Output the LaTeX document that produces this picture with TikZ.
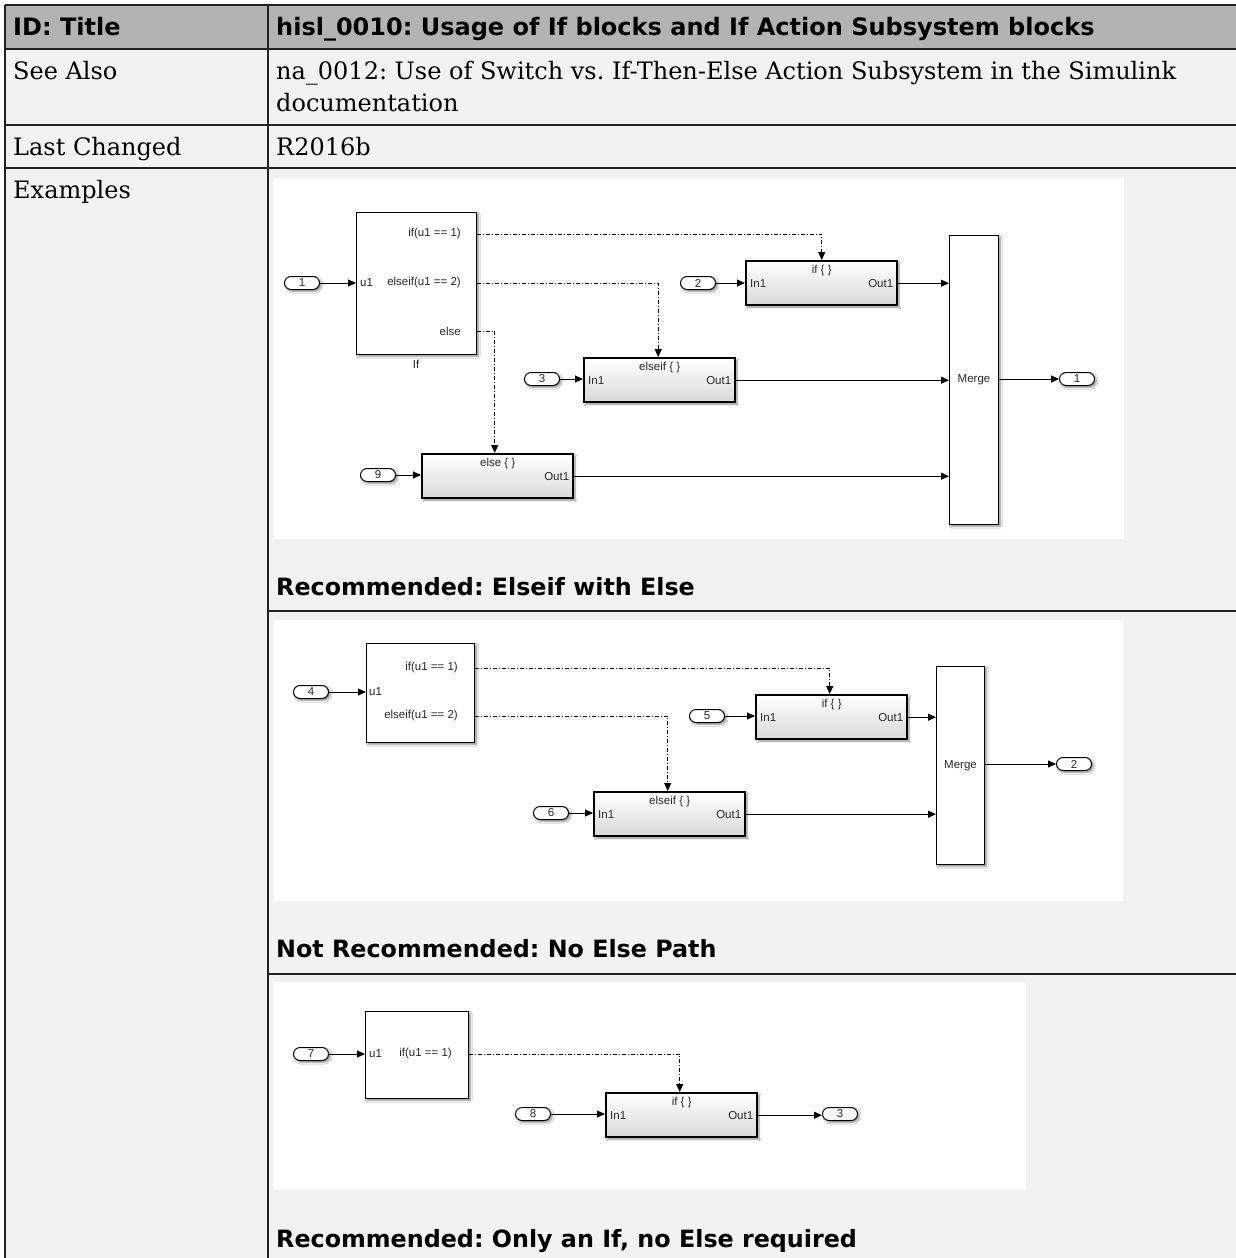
\documentclass[tikz,border=0pt]{standalone}
\usepackage{fontspec}
\setmainfont{DejaVu Serif}
\newfontfamily\hdfont{DejaVu Sans}
\newfontfamily\slfont{Liberation Sans}
\usetikzlibrary{arrows.meta,shadows.blur,calc}
\definecolor{hdrgray}{HTML}{B3B3B3}
\definecolor{cellgray}{HTML}{F2F2F2}
\definecolor{sltext}{HTML}{2A2A2A}
\definecolor{gridcol}{HTML}{222222}
\frenchspacing
\tikzset{
  gridline/.style={draw=gridcol, line width=1.6pt},
  hdtext/.style={font=\hdfont\bfseries\fontsize{24}{29}\selectfont, anchor=base west, inner sep=0pt},
  captext/.style={font=\hdfont\bfseries\fontsize{23.8}{29}\selectfont, anchor=base west, inner sep=0pt},
  bodytext/.style={font=\fontsize{24}{31}\selectfont, anchor=base west, inner sep=0pt},
  slshadow/.style={blur shadow={shadow xshift=1.8pt, shadow yshift=-1.8pt, shadow blur radius=1.8pt, shadow blur steps=6, shadow opacity=45}},
  sysblk/.style={draw=black, line width=1pt, fill=white, slshadow, anchor=north west, inner sep=0pt},
  actblk/.style={draw=black, line width=2.4pt, top color=white, bottom color=black!15, slshadow, anchor=north west, inner sep=0pt, minimum width=151pt, minimum height=44pt},
  pill/.style={draw=black, line width=1pt, fill=white, rounded corners=6.5pt, slshadow, minimum width=35pt, minimum height=13pt, inner sep=0pt, font=\slfont\fontsize{11.5}{13}\selectfont, text=sltext},
  sl/.style={font=\slfont\fontsize{11.5}{13}\selectfont, text=sltext, inner sep=0pt},
  sig/.style={draw=black, line width=1pt, -{Triangle[length=8pt,width=7pt]}},
  ctrl/.style={sig, dash pattern=on 4pt off 2pt on 1pt off 2pt},
}
\begin{document}
\begin{tikzpicture}[x=1pt,y=-1pt]
\useasboundingbox (0,0) rectangle (1236,1258);
\clip (0,0) rectangle (1236,1258);
% table backgrounds
\fill[white] (0,0) rectangle (1236,1258);
\fill[hdrgray] (5,5) rectangle (1240,49);
\fill[cellgray] (5,49) rectangle (1240,1262);
% image panels
\fill[white] (274,178) rectangle (1124,539);
\fill[white] (274,620) rectangle (1123,901);
\fill[white] (274,982) rectangle (1026,1190);
% grid lines
\draw[gridline] (5,5) -- (1240,5);
\draw[gridline] (5,49) -- (1240,49);
\draw[gridline] (5,125) -- (1240,125);
\draw[gridline] (5,168) -- (1240,168);
\draw[gridline] (268,611) -- (1240,611);
\draw[gridline] (268,974) -- (1240,974);
\draw[gridline] (5,5) -- (5,1262);
\draw[gridline] (268,5) -- (268,1262);
% texts
\node[hdtext] (h1) at (13,35) {ID: Title};
\node[hdtext] (h2) at (276,35) {hisl\_0010: Usage of If blocks and If Action Subsystem blocks};
\node[bodytext] (t1) at (13,79) {See Also};
\node[bodytext] (t2) at (276,79) {na\_0012: Use of Switch vs. If-Then-Else Action Subsystem in the Simulink};
\node[bodytext] (t3) at (276,111) {documentation};
\node[bodytext] (t4) at (13,155) {Last Changed};
\node[bodytext] (t5) at (276,155) {R2016b};
\node[bodytext] (t6) at (13,198) {Examples};
\node[captext] (c1) at (276,595) {Recommended: Elseif with Else};
\node[captext] (c2) at (276,957) {Not Recommended: No Else Path};
\node[captext] (c3) at (276,1247) {Recommended: Only an If, no Else required};

% ================= Diagram 1 =================
\node[sysblk, minimum width=120pt, minimum height=142pt] (If1) at (356,212) {};
\node[sl, anchor=west] (u11) at (360,283) {u1};
\node[sl, anchor=east] (p11) at (461,234) {if(u1 == 1)};
\node[sl, anchor=east] (p12) at (461,283) {elseif(u1 == 2)};
\node[sl, anchor=east] (p13) at (461,331) {else};
\node[sl] (l1) at (416,364) {If};
\node[pill] (I1) at (302,283) {1};
\node[actblk] (A1) at (745,260) {};
\node[sl] at ([yshift=-11pt]A1.north) {if \{ \}};
\node[sl, anchor=west] at ([xshift=5pt]A1.west) {In1};
\node[sl, anchor=east] at ([xshift=-5pt]A1.east) {Out1};
\node[pill] (I2) at (698,283) {2};
\node[actblk] (B1) at (583,357) {};
\node[sl] at ([yshift=-11pt]B1.north) {elseif \{ \}};
\node[sl, anchor=west] at ([xshift=5pt]B1.west) {In1};
\node[sl, anchor=east] at ([xshift=-5pt]B1.east) {Out1};
\node[pill] (I3) at (542,379) {3};
\node[actblk] (C1) at (421,453) {};
\node[sl] at ([yshift=-11pt]C1.north) {else \{ \}};
\node[sl, anchor=east] at ([xshift=-5pt]C1.east) {Out1};
\node[pill] (I9) at (378,475) {9};
\node[sysblk, minimum width=49pt, minimum height=289pt] (M1) at (949,235) {};
\node[sl] at (M1.center) {Merge};
\node[pill] (O1) at (1077,379) {1};
\draw[sig] (I1.east) -- (If1.west |- I1.east);
\draw[sig] (I2.east) -- (A1.west |- I2.east);
\draw[sig] (I3.east) -- (B1.west |- I3.east);
\draw[sig] (I9.east) -- (C1.west |- I9.east);
\draw[sig] (A1.east) -- (M1.west |- A1.east);
\draw[sig] (B1.east) -- (M1.west |- B1.east);
\draw[sig] (C1.east) -- (M1.west |- C1.east);
\draw[sig] (M1.east |- O1.west) -- (O1.west);
\draw[ctrl] (p11.east -| If1.east) -| (A1.north);
\draw[ctrl] (p12.east -| If1.east) -| ([xshift=-1.5pt]B1.north);
\draw[ctrl] (p13.east -| If1.east) -| ([xshift=-3pt]C1.north);

% ================= Diagram 2 =================
\node[sysblk, minimum width=108pt, minimum height=99pt] (If2) at (366,643) {};
\node[sl, anchor=west] (u12) at (369,692) {u1};
\node[sl, anchor=east] (p21) at (458,668) {if(u1 == 1)};
\node[sl, anchor=east] (p22) at (458,716) {elseif(u1 == 2)};
\node[pill] (I4) at (311,692) {4};
\node[actblk] (A2) at (755,694) {};
\node[sl] at ([yshift=-11pt]A2.north) {if \{ \}};
\node[sl, anchor=west] at ([xshift=5pt]A2.west) {In1};
\node[sl, anchor=east] at ([xshift=-5pt]A2.east) {Out1};
\node[pill] (I5) at (707,716) {5};
\node[actblk] (B2) at (593,791) {};
\node[sl] at ([yshift=-11pt]B2.north) {elseif \{ \}};
\node[sl, anchor=west] at ([xshift=5pt]B2.west) {In1};
\node[sl, anchor=east] at ([xshift=-5pt]B2.east) {Out1};
\node[pill] (I6) at (551,813) {6};
\node[sysblk, minimum width=48pt, minimum height=198pt] (M2) at (936,666) {};
\node[sl] at (M2.center) {Merge};
\node[pill] (O2) at (1074,764) {2};
\draw[sig] (I4.east) -- (If2.west |- I4.east);
\draw[sig] (I5.east) -- (A2.west |- I5.east);
\draw[sig] (I6.east) -- (B2.west |- I6.east);
\draw[sig] (A2.east) -- (M2.west |- A2.east);
\draw[sig] (B2.east) -- (M2.west |- B2.east);
\draw[sig] (M2.east |- O2.west) -- (O2.west);
\draw[ctrl] (p21.east -| If2.east) -| ([xshift=-2pt]A2.north);
\draw[ctrl] (p22.east -| If2.east) -| ([xshift=-2pt]B2.north);

% ================= Diagram 3 =================
\node[sysblk, minimum width=103pt, minimum height=87pt] (If3) at (365,1011) {};
\node[sl, anchor=west] (u13) at (369,1054) {u1};
\node[sl, anchor=east] (p31) at (452,1054) {if(u1 == 1)};
\node[pill] (I7) at (311,1054) {7};
\node[actblk] (A3) at (605,1092) {};
\node[sl] at ([yshift=-11pt]A3.north) {if \{ \}};
\node[sl, anchor=west] at ([xshift=5pt]A3.west) {In1};
\node[sl, anchor=east] at ([xshift=-5pt]A3.east) {Out1};
\node[pill] (I8) at (533,1114) {8};
\node[pill] (O3) at (840,1114) {3};
\draw[sig] (I7.east) -- (If3.west |- I7.east);
\draw[sig] (I8.east) -- (A3.west |- I8.east);
\draw[sig] (A3.east) -- (O3.west |- A3.east);
\draw[ctrl] (p31.east -| If3.east) -| ([xshift=-2pt]A3.north);
\end{tikzpicture}
\end{document}
